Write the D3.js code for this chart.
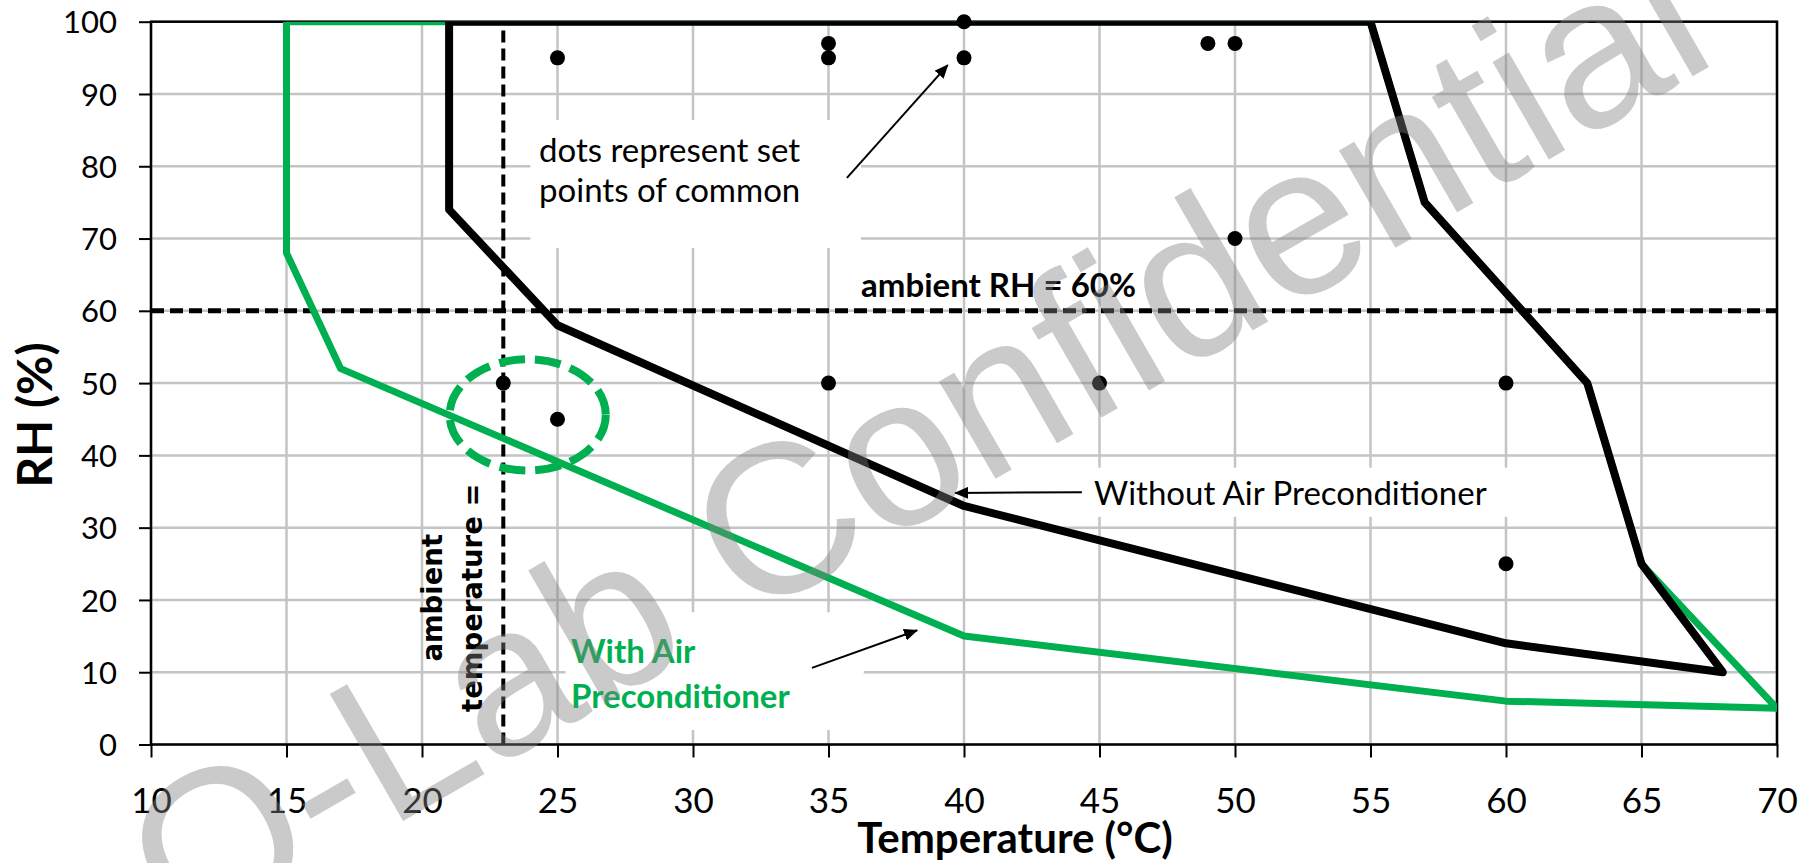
<!DOCTYPE html>
<html>
<head>
<meta charset="utf-8">
<script src="https://cdn.jsdelivr.net/npm/d3@7"></script>
<style>
  body { margin: 0; background: #fff; }
</style>
</head>
<body>
<div class="canvas"></div>
<script>

// chart data
const xTicks = [10, 15, 20, 25, 30, 35, 40, 45, 50, 55, 60, 65, 70]
const yTicks = [0, 10, 20, 30, 40, 50, 60, 70, 80, 90, 100]

// envelope without air preconditioner (closed outline)
const withoutTemp = [21, 21, 25, 40, 60, 68, 65, 63, 57, 55, 21]
const withoutRH = [100, 74, 58, 33, 14, 10, 25, 50, 75, 100, 100]

// envelope with air preconditioner
const withTemp = [15, 15, 17, 40, 60, 70, 65, 63, 57, 55, 15]
const withRH = [100, 68, 52, 15, 6, 5, 25, 50, 75, 100, 100]

// set points of common chambers
const setTemp = [25, 35, 35, 40, 40, 49, 50, 50, 23, 25, 35, 45, 60, 60]
const setRH = [95, 97, 95, 100, 95, 97, 97, 70, 50, 45, 50, 50, 50, 25]

// ambient reference lines
const ambientTemp = 23
const ambientRH = 60

const width = 1806
const height = 863
const margin = {top: 21.7, right: 29, bottom: 118.5, left: 151}
const graphWidth = width - margin.left - margin.right
const graphHeight = height - margin.top - margin.bottom

const green = '#00b050'
const grid = '#c4c4c4'
const calibri = 'Lato, "Open Sans", sans-serif'

const svg = d3.select('.canvas')
  .append('svg')
  .attr('width', width)
  .attr('height', height)

svg.append('rect').attr('width', width).attr('height', height).attr('fill', '#fff')

const graph = svg.append('g')
  .attr('transform', `translate(${margin.left}, ${margin.top})`)

const x = d3.scaleLinear().domain([10, 70]).range([0, graphWidth])
const y = d3.scaleLinear().domain([0, 100]).range([graphHeight, 0])

// arrow head
const defs = svg.append('defs')
defs.append('marker')
  .attr('id', 'arrow')
  .attr('markerUnits', 'userSpaceOnUse')
  .attr('viewBox', '0 0 14 12')
  .attr('refX', 13).attr('refY', 6)
  .attr('markerWidth', 14).attr('markerHeight', 12)
  .attr('orient', 'auto')
  .append('path').attr('d', 'M0,0 L14,6 L0,12 Z').attr('fill', '#000')

defs.append('clipPath').attr('id', 'plot')
  .append('rect').attr('width', graphWidth).attr('height', graphHeight)

// gridlines
graph.append('g').selectAll('line')
  .data(xTicks)
  .enter().append('line')
  .attr('x1', d => x(d)).attr('x2', d => x(d))
  .attr('y1', 0).attr('y2', graphHeight)
  .attr('stroke', grid).attr('stroke-width', 2.5)

graph.append('g').selectAll('line')
  .data(yTicks)
  .enter().append('line')
  .attr('x1', 0).attr('x2', graphWidth)
  .attr('y1', d => y(d)).attr('y2', d => y(d))
  .attr('stroke', grid).attr('stroke-width', 2.5)

// white boxes behind the notes, given in data units
const boxes = [
  [24.0, 36.2, 86.4, 68.7],
  [25.3, 36.3, 18.3, 2.0],
  [44.5, 60.4, 38.3, 31.5]
]
graph.append('g').selectAll('rect')
  .data(boxes)
  .enter().append('rect')
  .attr('x', d => x(d[0])).attr('width', d => x(d[1]) - x(d[0]))
  .attr('y', d => y(d[2])).attr('height', d => y(d[3]) - y(d[2]))
  .attr('fill', '#fff')

// axes
const xAxisGroup = graph.append('g').attr('transform', `translate(0, ${graphHeight})`)
const yAxisGroup = graph.append('g')

xAxisGroup.call(d3.axisBottom(x).tickValues(xTicks).tickSize(13).tickFormat(d => d))
yAxisGroup.call(d3.axisLeft(y).tickValues(yTicks).tickSize(12).tickFormat(d => d))

xAxisGroup.select('.domain').remove()
yAxisGroup.select('.domain').remove()
xAxisGroup.selectAll('line').attr('stroke', '#000').attr('stroke-width', 2)
yAxisGroup.selectAll('line').attr('stroke', '#000').attr('stroke-width', 2)

xAxisGroup.selectAll('text')
  .attr('y', 68).attr('dy', null)
  .attr('font-family', calibri).attr('font-size', 35).attr('fill', '#000')
yAxisGroup.selectAll('text')
  .attr('x', -34).attr('dy', '0.36em')
  .attr('font-family', calibri).attr('font-size', 31).attr('fill', '#000')

// plot frame
graph.append('rect')
  .attr('width', graphWidth).attr('height', graphHeight)
  .attr('fill', 'none').attr('stroke', '#000').attr('stroke-width', 2.5)

// ambient dashed lines
graph.append('line')
  .attr('x1', x(10)).attr('x2', x(70))
  .attr('y1', y(ambientRH)).attr('y2', y(ambientRH))
  .attr('stroke', '#000').attr('stroke-width', 5).attr('stroke-dasharray', '13,6')

graph.append('line')
  .attr('x1', x(ambientTemp)).attr('x2', x(ambientTemp))
  .attr('y1', y(0)).attr('y2', y(100))
  .attr('stroke', '#000').attr('stroke-width', 4).attr('stroke-dasharray', '12,6')

// envelopes, clipped to the plot like the original
const line = d3.line().x(d => x(d[0])).y(d => y(d[1]))
const series = graph.append('g').attr('clip-path', 'url(#plot)')

series.append('path')
  .attr('d', line(d3.zip(withTemp, withRH)))
  .attr('fill', 'none').attr('stroke', green).attr('stroke-width', 7)
  .attr('stroke-linejoin', 'round')

series.append('path')
  .attr('d', line(d3.zip(withoutTemp, withoutRH)))
  .attr('fill', 'none').attr('stroke', '#000').attr('stroke-width', 8)
  .attr('stroke-linejoin', 'round')

// green dashed ring round the ambient points
graph.append('ellipse')
  .attr('cx', x(23.9)).attr('cy', y(45.6))
  .attr('rx', x(23.9 + 2.88) - x(23.9)).attr('ry', y(45.6 - 7.7) - y(45.6))
  .attr('fill', 'none').attr('stroke', green).attr('stroke-width', 8)
  .attr('stroke-dasharray', '26,10')

// set point dots
graph.append('g').selectAll('circle')
  .data(d3.zip(setTemp, setRH))
  .enter().append('circle')
  .attr('cx', d => x(d[0])).attr('cy', d => y(d[1]))
  .attr('r', 7.5).attr('fill', '#000')

// notes
const note = (t, px, py, size, weight, fill) => graph.append('text')
  .attr('x', x(px)).attr('y', y(py))
  .attr('font-family', calibri).attr('font-size', size)
  .attr('font-weight', weight).attr('fill', fill)
  .text(t)

note('dots represent set', 24.32, 80.6, 33, 400, '#000')
note('points of common', 24.32, 75.1, 33, 400, '#000')
note('ambient RH = 60%', 36.2, 61.9, 33, 700, '#000')
note('Without Air Preconditioner', 44.8, 33.1, 33, 400, '#000')
note('With Air', 25.5, 11.3, 33, 700, green)
note('Preconditioner', 25.5, 5.06, 33, 700, green)

// rotated ambient temperature note
const amb = graph.append('g')
  .attr('transform', `translate(${x(20.74)}, ${y(20.3)}) rotate(-90)`)
  .attr('font-family', '"DejaVu Sans", sans-serif').attr('font-size', 27.5)
  .attr('font-weight', 700).attr('text-anchor', 'middle')
amb.append('text').text('ambient')
amb.append('text').attr('y', x(22.2) - x(20.74)).text('temperature =')

// arrows [from, to] in data units
const arrows = [
  [[35.68, 78.4], [39.4, 94.0]],
  [[44.35, 34.9], [39.67, 34.8]],
  [[34.39, 10.6], [38.27, 15.8]]
]
graph.append('g').selectAll('line')
  .data(arrows)
  .enter().append('line')
  .attr('x1', d => x(d[0][0])).attr('y1', d => y(d[0][1]))
  .attr('x2', d => x(d[1][0])).attr('y2', d => y(d[1][1]))
  .attr('stroke', '#000').attr('stroke-width', 2)
  .attr('marker-end', 'url(#arrow)')

// axis titles
svg.append('text')
  .attr('x', 1015).attr('y', 853)
  .attr('text-anchor', 'middle')
  .attr('font-family', calibri).attr('font-size', 42).attr('font-weight', 700)
  .text('Temperature (°C)')

svg.append('text')
  .attr('transform', 'translate(52, 415) rotate(-90)')
  .attr('text-anchor', 'middle')
  .attr('font-family', calibri).attr('font-size', 48).attr('font-weight', 700)
  .text('RH (%)')

// watermark
svg.append('text')
  .attr('transform', 'translate(183, 948) rotate(-30)')
  .attr('font-family', '"Liberation Sans", Arial, sans-serif').attr('font-size', 213)
  .attr('fill', '#808080').attr('fill-opacity', 0.42)
  .text('O-Lab Confidential')

</script>
</body>
</html>
